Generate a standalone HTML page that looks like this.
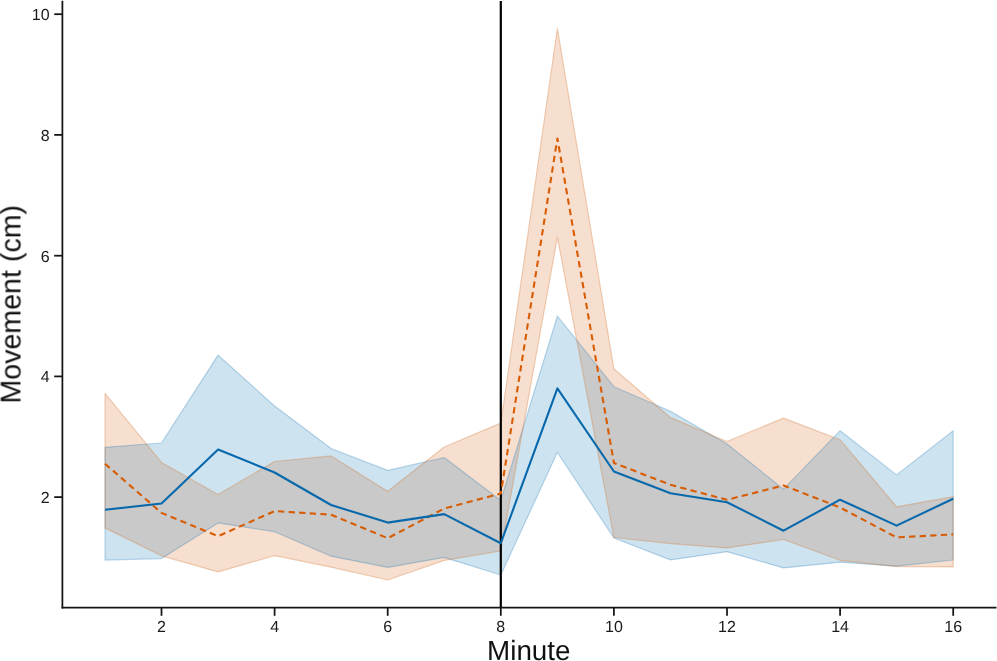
<!DOCTYPE html>
<html><head><meta charset="utf-8"><title>Movement by Minute</title>
<style>
html,body{margin:0;padding:0;background:#fff;}
body{width:997px;height:661px;overflow:hidden;font-family:"Liberation Sans",Arial,sans-serif;}
svg{display:block;will-change:transform;}
svg text{text-rendering:geometricPrecision;font-family:"Liberation Sans",Arial,sans-serif;fill:#1a1a1a;}
.tk text{font-size:16px;}
.lab{font-size:27.8px;fill:#111;}
</style></head><body>
<svg width="997" height="661" viewBox="0 0 997 661">
<rect width="997" height="661" fill="#ffffff"/>
<defs><clipPath id="oc"><polygon points="105.0,393.3 161.5,462.4 218.1,494.6 274.6,461.5 331.1,455.9 387.7,491.2 444.2,447.0 500.8,423.1 557.4,28.4 613.9,368.8 670.5,417.6 727.0,441.5 783.5,418.1 840.1,439.7 896.6,506.8 953.2,496.7 953.2,566.9 896.6,566.7 840.1,560.3 783.5,539.5 727.0,547.9 670.5,543.6 613.9,537.5 557.4,237.4 500.8,551.0 444.2,560.4 387.7,580.0 331.1,567.2 274.6,555.6 218.1,571.9 161.5,555.8 105.0,527.9"/></clipPath></defs>
<polygon points="105.0,447.3 161.5,443.0 218.1,355.1 274.6,406.1 331.1,448.5 387.7,470.4 444.2,457.5 500.8,500.5 557.4,316.0 613.9,386.7 670.5,411.3 727.0,444.0 783.5,489.2 840.1,430.7 896.6,474.9 953.2,430.7 953.2,560.0 896.6,566.2 840.1,562.2 783.5,567.9 727.0,551.7 670.5,559.9 613.9,538.0 557.4,452.3 500.8,575.0 444.2,557.4 387.7,567.4 331.1,556.2 274.6,531.7 218.1,522.9 161.5,558.6 105.0,560.1" fill="#cde3f0"/>
<polygon points="105.0,393.3 161.5,462.4 218.1,494.6 274.6,461.5 331.1,455.9 387.7,491.2 444.2,447.0 500.8,423.1 557.4,28.4 613.9,368.8 670.5,417.6 727.0,441.5 783.5,418.1 840.1,439.7 896.6,506.8 953.2,496.7 953.2,566.9 896.6,566.7 840.1,560.3 783.5,539.5 727.0,547.9 670.5,543.6 613.9,537.5 557.4,237.4 500.8,551.0 444.2,560.4 387.7,580.0 331.1,567.2 274.6,555.6 218.1,571.9 161.5,555.8 105.0,527.9" fill="#f7dfcf"/>
<polygon points="105.0,447.3 161.5,443.0 218.1,355.1 274.6,406.1 331.1,448.5 387.7,470.4 444.2,457.5 500.8,500.5 557.4,316.0 613.9,386.7 670.5,411.3 727.0,444.0 783.5,489.2 840.1,430.7 896.6,474.9 953.2,430.7 953.2,560.0 896.6,566.2 840.1,562.2 783.5,567.9 727.0,551.7 670.5,559.9 613.9,538.0 557.4,452.3 500.8,575.0 444.2,557.4 387.7,567.4 331.1,556.2 274.6,531.7 218.1,522.9 161.5,558.6 105.0,560.1" fill="#c8c9c8" clip-path="url(#oc)"/>
<polygon points="105.0,447.3 161.5,443.0 218.1,355.1 274.6,406.1 331.1,448.5 387.7,470.4 444.2,457.5 500.8,500.5 557.4,316.0 613.9,386.7 670.5,411.3 727.0,444.0 783.5,489.2 840.1,430.7 896.6,474.9 953.2,430.7 953.2,560.0 896.6,566.2 840.1,562.2 783.5,567.9 727.0,551.7 670.5,559.9 613.9,538.0 557.4,452.3 500.8,575.0 444.2,557.4 387.7,567.4 331.1,556.2 274.6,531.7 218.1,522.9 161.5,558.6 105.0,560.1" fill="none" stroke="#0868ac" stroke-opacity="0.26" stroke-width="1.2" stroke-linejoin="round"/>
<polygon points="105.0,393.3 161.5,462.4 218.1,494.6 274.6,461.5 331.1,455.9 387.7,491.2 444.2,447.0 500.8,423.1 557.4,28.4 613.9,368.8 670.5,417.6 727.0,441.5 783.5,418.1 840.1,439.7 896.6,506.8 953.2,496.7 953.2,566.9 896.6,566.7 840.1,560.3 783.5,539.5 727.0,547.9 670.5,543.6 613.9,537.5 557.4,237.4 500.8,551.0 444.2,560.4 387.7,580.0 331.1,567.2 274.6,555.6 218.1,571.9 161.5,555.8 105.0,527.9" fill="none" stroke="#cc6c28" stroke-opacity="0.3" stroke-width="1.2" stroke-linejoin="round"/>
<line x1="500.8" y1="1" x2="500.8" y2="607.7" stroke="#000" stroke-width="2.2"/>
<polyline points="105.0,463.7 161.5,512.9 218.1,536.2 274.6,511.1 331.1,514.7 387.7,538.2 444.2,508.5 500.8,493.5 557.4,138.5 613.9,462.9 670.5,484.8 727.0,499.8 783.5,485.4 840.1,507.5 896.6,537.4 953.2,534.4" fill="none" stroke="#d85c04" stroke-width="2.1" stroke-linejoin="round" stroke-dasharray="6.3 4.3"/>
<polyline points="105.0,509.8 161.5,503.5 218.1,449.5 274.6,472.5 331.1,505.0 387.7,522.6 444.2,514.1 500.8,543.2 557.4,388.4 613.9,471.5 670.5,493.3 727.0,502.2 783.5,530.7 840.1,499.7 896.6,525.6 953.2,498.7" fill="none" stroke="#0868ac" stroke-width="2.1" stroke-linejoin="round" stroke-linecap="butt"/>
<g stroke="#141414" stroke-width="1.75" fill="none">
<line x1="62.4" y1="0.8" x2="62.4" y2="608.5"/>
<line x1="61.6" y1="607.7" x2="996.5" y2="607.7"/>
<line x1="161.5" y1="607.7" x2="161.5" y2="615.8"/><line x1="274.6" y1="607.7" x2="274.6" y2="615.8"/><line x1="387.7" y1="607.7" x2="387.7" y2="615.8"/><line x1="500.8" y1="607.7" x2="500.8" y2="615.8"/><line x1="613.9" y1="607.7" x2="613.9" y2="615.8"/><line x1="727.0" y1="607.7" x2="727.0" y2="615.8"/><line x1="840.1" y1="607.7" x2="840.1" y2="615.8"/><line x1="953.2" y1="607.7" x2="953.2" y2="615.8"/><line x1="54.2" y1="497.1" x2="62.4" y2="497.1"/><line x1="54.2" y1="376.4" x2="62.4" y2="376.4"/><line x1="54.2" y1="255.7" x2="62.4" y2="255.7"/><line x1="54.2" y1="134.9" x2="62.4" y2="134.9"/><line x1="54.2" y1="14.2" x2="62.4" y2="14.2"/>
</g>
<g class="tk" opacity="0.999"><text x="161.5" y="632.3" text-anchor="middle">2</text><text x="274.6" y="632.3" text-anchor="middle">4</text><text x="387.7" y="632.3" text-anchor="middle">6</text><text x="500.8" y="632.3" text-anchor="middle">8</text><text x="613.9" y="632.3" text-anchor="middle">10</text><text x="727.0" y="632.3" text-anchor="middle">12</text><text x="840.1" y="632.3" text-anchor="middle">14</text><text x="953.2" y="632.3" text-anchor="middle">16</text><text x="49.6" y="503.1" text-anchor="end">2</text><text x="49.6" y="382.4" text-anchor="end">4</text><text x="49.6" y="261.7" text-anchor="end">6</text><text x="49.6" y="140.9" text-anchor="end">8</text><text x="49.6" y="20.2" text-anchor="end">10</text></g>
<g opacity="0.999"><text class="lab" x="528.8" y="660.1" text-anchor="middle">Minute</text>
<text class="lab" style="font-size:28.6px" transform="translate(20.5,304.3) rotate(-90)" text-anchor="middle">Movement (cm)</text></g>
</svg>
</body></html>
